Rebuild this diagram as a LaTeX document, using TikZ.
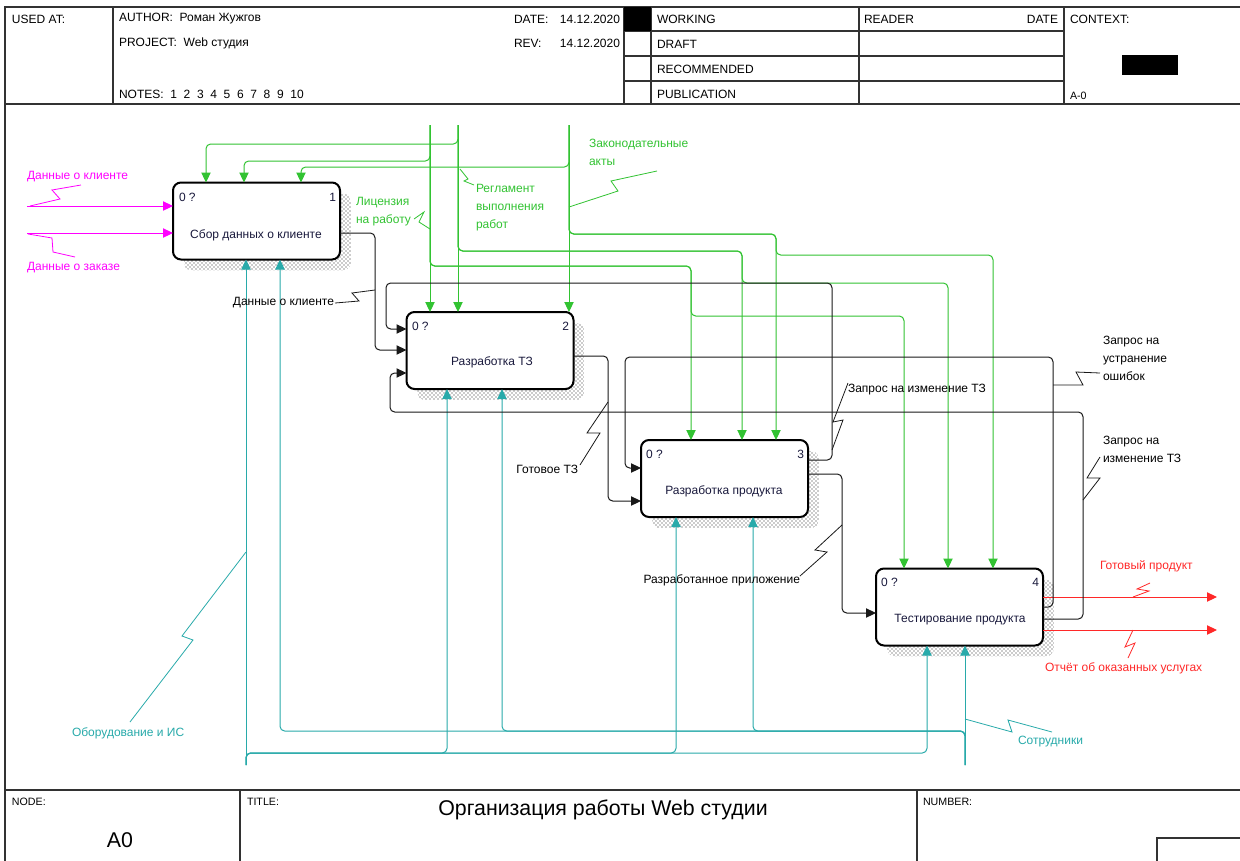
\documentclass[tikz,border=0pt]{standalone}
\usepackage{fontspec}
\setmainfont{Liberation Sans}
\usetikzlibrary{arrows.meta,calc,patterns}
\pgfdeclarelayer{bg}
\pgfsetlayers{bg,main}
\definecolor{cgreen}{RGB}{50,195,50}
\definecolor{cteal}{RGB}{40,170,170}
\definecolor{cmag}{RGB}{255,0,255}
\definecolor{cred}{RGB}{255,40,40}
\definecolor{cfb}{RGB}{25,25,25}
\definecolor{ctxt}{RGB}{25,25,60}
\definecolor{cframe}{RGB}{50,50,50}
\begin{document}
\begin{tikzpicture}[x=0.75pt,y=-0.75pt,
  every node/.style={inner sep=0pt, outer sep=0pt},
  lbl/.style={font=\fontsize{9}{13.5}\selectfont, text=black},
  hdr/.style={font=\fontsize{9}{12}\selectfont, text=black, anchor=west},
  hsmall/.style={font=\fontsize{8}{10}\selectfont, text=black, anchor=west},
  arrowtip/.style={-{Triangle[length=7.5pt,width=7pt]}},
  conn/.style={line width=0.75pt, rounded corners=3.5pt},
  ctrl/.style={conn, draw=cgreen, arrowtip},
  mech/.style={conn, draw=cteal, arrowtip},
  inp/.style={conn, draw=cmag, arrowtip},
  outp/.style={conn, draw=cred, arrowtip},
  fb/.style={conn, draw=cfb, arrowtip},
  bolt/.style={line width=0.6pt},
  idefbox/.style={draw=black, line width=1.5pt, fill=white, rounded corners=6pt,
    minimum width=125.25pt, minimum height=57.75pt},
  boxtxt/.style={font=\fontsize{9}{12}\selectfont, text=ctxt},
  boxnum/.style={font=\fontsize{9}{12}\selectfont, text=ctxt}
]
\useasboundingbox (0,0) rectangle (1240,861);

% ---------- frame ----------
\draw[cframe, line width=1.5pt] (5,861) -- (5,7) -- (1240,7);
\draw[cframe, line width=1.5pt] (5,104) -- (1240,104);
\draw[cframe, line width=1.5pt] (5,790) -- (1240,790);
\draw[cframe, line width=0.9pt] (113,7) -- (113,104) (624,7) -- (624,104)
  (651,7) -- (651,104) (859,7) -- (859,104) (1064,7) -- (1064,104);
\draw[cframe, line width=0.9pt] (624,31) -- (1064,31) (624,56) -- (1064,56) (624,81) -- (1064,81);
\draw[cframe, line width=0.9pt] (240,790) -- (240,861) (917,790) -- (917,861);
\draw[cframe, line width=0.9pt] (1157,861) -- (1157,838) -- (1240,838);
\fill[black] (624,7) rectangle (651,31);
\fill[black] (1122,55) rectangle (1178,75);

% ---------- header texts ----------
\node[hdr] (hUsed) at (12,19) {USED AT:};
\node[hdr] (hAuth) at (119,19) {AUTHOR:\ \ Роман Жужгов};
\node[hdr] (hProj) at (119,43) {PROJECT:\ \ Web студия};
\node[hdr] (hNotes) at (119,94) {NOTES:\ \ 1\ \ 2\ \ 3\ \ 4\ \ 5\ \ 6\ \ 7\ \ 8\ \ 9\ \ 10};
\node[hdr] (hDate) at (514,19) {DATE:};
\node[hdr, anchor=east] (hDateV) at (620,19) {14.12.2020};
\node[hdr] (hRev) at (514,43) {REV:};
\node[hdr, anchor=east] (hRevV) at (620,43) {14.12.2020};
\node[hdr] (hWork) at (657,19) {WORKING};
\node[hdr] (hDraft) at (657,44) {DRAFT};
\node[hdr] (hRec) at (657,69) {RECOMMENDED};
\node[hdr] (hPub) at (657,94) {PUBLICATION};
\node[hdr] (hReader) at (864,19) {READER};
\node[hdr, anchor=east] (hRDate) at (1058,19) {DATE};
\node[hdr] (hCtx) at (1070,19) {CONTEXT:};
\node[hsmall] (hA0) at (1070,96) {A-0};

% ---------- footer texts ----------
\node[hsmall] (fNode) at (12,802) {NODE:};
\node[hsmall] (fTitle) at (247,802) {TITLE:};
\node[hsmall] (fNum) at (923,802) {NUMBER:};
\node[font=\fontsize{16}{18}\selectfont] (fTitleV) at (603,810) {Организация работы Web студии};
\node[font=\fontsize{16}{18}\selectfont] (fNodeV) at (120,840) {A0};

% ---------- boxes ----------
\node[idefbox] (b1) at (256.5,221) {};
\node[idefbox] (b2) at (490,350.5) {};
\node[idefbox] (b3) at (724.5,478.5) {};
\node[idefbox] (b4) at (959.5,607) {};
\node[boxtxt] (t1) at (256,235) {Сбор данных о клиенте};
\node[boxtxt] (t2) at (492,362) {Разработка ТЗ};
\node[boxtxt] (t3) at (724,491) {Разработка продукта};
\node[boxtxt] (t4) at (960,620) {Тестирование продукта};
\node[boxnum, anchor=west] (n1a) at (179,197) {0 ?};
\node[boxnum, anchor=east] (n1b) at (336,197) {1};
\node[boxnum, anchor=west] (n2a) at (412,326) {0 ?};
\node[boxnum, anchor=east] (n2b) at (569,326) {2};
\node[boxnum, anchor=west] (n3a) at (646,454) {0 ?};
\node[boxnum, anchor=east] (n3b) at (804,454) {3};
\node[boxnum, anchor=west] (n4a) at (881,582) {0 ?};
\node[boxnum, anchor=east] (n4b) at (1039,582) {4};

\begin{pgfonlayer}{bg}
\fill[white] (0,0) rectangle (1240,861);
\foreach \b in {b1,b2,b3,b4}
  \fill[pattern=crosshatch dots, pattern color=black!85, rounded corners=6pt]
    ($(\b.north west)+(11,11)$) rectangle ($(\b.south east)+(11,11)$);
\end{pgfonlayer}

% ---------- controls ----------
\coordinate (cA) at (430,125);
\coordinate (cB) at (458,125);
\coordinate (cC) at (569,125);
\draw[ctrl] (cA) -- (b2.north -| cA);
\draw[ctrl] (cA) -- (430,161) -- (244,161) -- (b1.north -| 244,0);
\draw[ctrl] (cA) -- (430,266) -- (691,266) -- (b3.north -| 691,0);
\draw[ctrl] (cA) -- (430,266) -- (691,266) -- (691,316) -- (904,316) -- (b4.north -| 904,0);
\draw[ctrl] (cB) -- (b2.north -| cB);
\draw[ctrl] (cB) -- (458,144) -- (206,144) -- (b1.north -| 206,0);
\draw[ctrl] (cB) -- (458,251) -- (742,251) -- (b3.north -| 742,0);
\draw[ctrl] (cB) -- (458,251) -- (742,251) -- (742,283) -- (948,283) -- (b4.north -| 948,0);
\draw[ctrl] (cC) -- (b2.north -| cC);
\draw[ctrl] (cC) -- (569,167) -- (301,167) -- (b1.north -| 301,0);
\draw[ctrl] (cC) -- (569,234) -- (776,234) -- (b3.north -| 776,0);
\draw[ctrl] (cC) -- (569,234) -- (776,234) -- (776,255) -- (993,255) -- (b4.north -| 993,0);

% ---------- mechanisms ----------
\coordinate (mO) at (246,765);
\coordinate (mS) at (965,765);
\draw[mech] (mO) -- (b1.south -| mO);
\draw[mech] (mO) -- (246,753) -- (447,753) -- (b2.south -| 447,0);
\draw[mech] (mO) -- (246,753) -- (676,753) -- (b3.south -| 676,0);
\draw[mech] (mO) -- (246,753) -- (927,753) -- (b4.south -| 927,0);
\draw[mech] (mS) -- (b4.south -| mS);
\draw[mech] (mS) -- (965,731) -- (753,731) -- (b3.south -| 753,0);
\draw[mech] (mS) -- (965,731) -- (502,731) -- (b2.south -| 502,0);
\draw[mech] (mS) -- (965,731) -- (280,731) -- (b1.south -| 280,0);

% ---------- inputs / outputs ----------
\coordinate (iA) at (27,206);
\coordinate (iB) at (27,233);
\draw[inp] (iA) -- (b1.west |- iA);
\draw[inp] (iB) -- (b1.west |- iB);
\coordinate (oA) at (1217,597);
\coordinate (oB) at (1217,630);
\draw[outp] (b4.east |- oA) -- (oA);
\draw[outp] (b4.east |- oB) -- (oB);

% ---------- internal / feedback ----------
\draw[fb] (b1.east |- 0,233) -- (375,233) -- (375,350) -- (b2.west |- 0,350);
\draw[fb] (b2.east |- 0,356) -- (608,356) -- (608,501) -- (b3.west |- 0,501);
\draw[fb] (b3.east |- 0,474) -- (842,474) -- (842,613) -- (b4.west |- 0,613);
\draw[fb] (b3.east |- 0,460) -- (832,460) -- (832,283) -- (386,283) -- (386,329) -- (b2.west |- 0,329);
\draw[fb] (b4.east |- 0,607) -- (1053,607) -- (1053,357) -- (625,357) -- (625,468) -- (b3.west |- 0,468);
\draw[fb] (b4.east |- 0,619) -- (1083,619) -- (1083,412) -- (390,412) -- (390,373) -- (b2.west |- 0,373);

% ---------- labels ----------
\node[lbl, text=cmag, anchor=west] (lIA) at (27,177) {Данные о клиенте};
\node[lbl, text=cmag, anchor=west] (lIB) at (27,268) {Данные о заказе};
\node[lbl, text=cgreen, anchor=west, align=left] (lA) at (356,212) {Лицензия\\на работу};
\node[lbl, text=cgreen, anchor=west, align=left] (lB) at (476,208) {Регламент\\выполнения\\работ};
\node[lbl, text=cgreen, anchor=west, align=left] (lC) at (589,152) {Законодательные\\акты};
\node[lbl, anchor=east] (lF1) at (334,303) {Данные о клиенте};
\node[lbl, anchor=east] (lF2) at (578,469) {Готовое ТЗ};
\node[lbl, anchor=west] (lF4) at (848,390) {Запрос на изменение ТЗ};
\node[lbl, anchor=east] (lF3) at (800,580) {Разработанное приложение};
\node[lbl, anchor=west, align=left] (lF5) at (1103,358) {Запрос на\\устранение\\ошибок};
\node[lbl, anchor=west, align=left] (lF6) at (1103,449) {Запрос на\\изменение ТЗ};
\node[lbl, text=cred, anchor=west] (lOA) at (1100,566) {Готовый продукт};
\node[lbl, text=cred, anchor=west] (lOB) at (1045,668) {Отчёт об оказанных услугах};
\node[lbl, text=cteal, anchor=west] (lMO) at (72,733) {Оборудование и ИС};
\node[lbl, text=cteal, anchor=west] (lMS) at (1018,742) {Сотрудники};

% ---------- squiggles ----------
\draw[bolt, cmag] (81,185) -- (52,190) -- (60,199) -- (30,206);
\draw[bolt, cmag] (28,234) -- (52,238) -- (53,252) -- (75,257);
\draw[bolt, cgreen] (414,219) -- (424,212) -- (419,222) -- (430,229);
\draw[bolt, cgreen] (460,169) -- (468,179) -- (464,181) -- (474,185);
\draw[bolt, cgreen] (657,171) -- (611,181) -- (618,191) -- (569,207);
\draw[bolt, cfb] (335,303) -- (359,301) -- (352,293) -- (375,290);
\draw[bolt, cfb] (580,465) -- (600,433) -- (587,433) -- (608,402);
\draw[bolt, cfb] (848,383) -- (833,422) -- (843,420) -- (832,450);
\draw[bolt, cfb] (800,576) -- (827,552) -- (815,550) -- (842,525);
\draw[bolt, cfb] (1100,373) -- (1076,372) -- (1083,385) -- (1053,385);
\draw[bolt, cfb] (1100,457) -- (1087,478) -- (1100,478) -- (1083,500);
\draw[bolt, cred] (1150,583) -- (1137,589) -- (1149,591) -- (1133,597);
\draw[bolt, cred] (1133,630) -- (1125,647) -- (1135,643) -- (1128,658);
\draw[bolt, cteal] (130,722) -- (193,640) -- (182,636) -- (246,552);
\draw[bolt, cteal] (965,719) -- (1012,732) -- (1008,720) -- (1052,732);
\end{tikzpicture}
\end{document}
